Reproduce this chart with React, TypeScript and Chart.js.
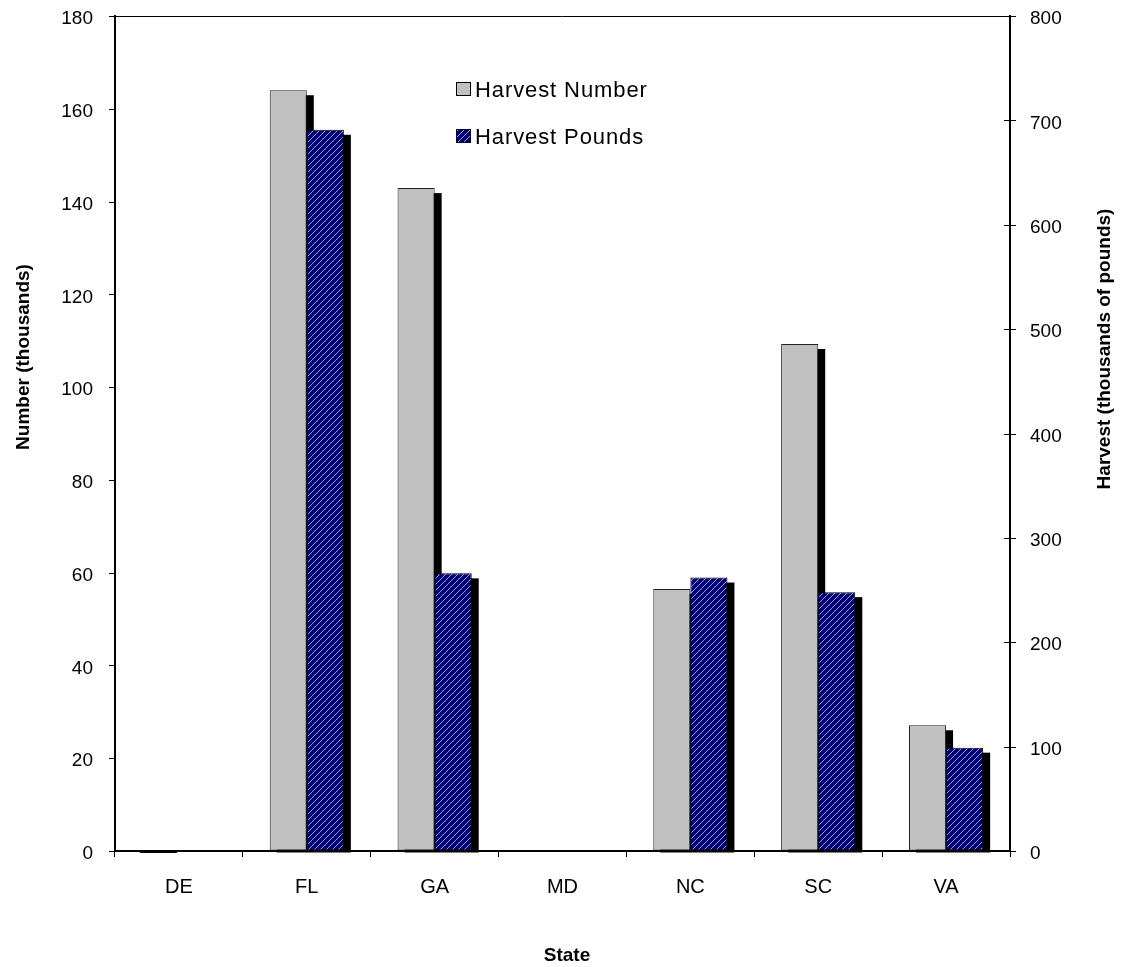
import React, { useEffect, useRef } from "react";
import { Chart, registerables } from "chart.js";

Chart.register(...registerables);

const categories = ["DE", "FL", "GA", "MD", "NC", "SC", "VA"];
const harvestNumber: (number | null)[] = [0, 164, 142.9, null, 56.5, 109.3, 27.1];
const harvestPounds: (number | null)[] = [null, 691, 266, null, 262, 248, 99];
const leftTicks = { min: 0, max: 180, step: 20 };
const rightTicks = { min: 0, max: 800, step: 100 };
const seriesNames = ["Harvest Number", "Harvest Pounds"];
const axisTitles = {
  left: "Number (thousands)",
  right: "Harvest (thousands of pounds)",
  bottom: "State",
};

const FONT = '"Liberation Sans", Arial, sans-serif';
const GRAY = "#c0c0c0";
const HIDDEN = "rgba(0,0,0,0)";

function makePattern(): CanvasPattern | string {
  const c = document.createElement("canvas");
  const s = 6;
  c.width = s;
  c.height = s;
  const g = c.getContext("2d");
  if (!g) return "#000080";
  g.fillStyle = "#000078";
  g.fillRect(0, 0, s, s);
  g.strokeStyle = "#9a9ac8";
  g.lineWidth = 1;
  const seg = (x1: number, y1: number, x2: number, y2: number) => {
    g.beginPath();
    g.moveTo(x1, y1);
    g.lineTo(x2, y2);
    g.stroke();
  };
  seg(0, s, s, 0);
  seg(-1, 1, 1, -1);
  seg(s - 1, s + 1, s + 1, s - 1);
  const p = g.createPattern(c, "repeat");
  return p || "#000080";
}

export default function App() {
  const ref = useRef<HTMLCanvasElement | null>(null);

  useEffect(() => {
    if (!ref.current) return;
    const pattern = makePattern();

    const shadowPlugin = {
      id: "shadows",
      beforeDatasetsDraw(chart: any) {
        const ctx = chart.ctx;
        ctx.save();
        ctx.fillStyle = "#000";
        chart.data.datasets.forEach((_: any, i: number) => {
          const meta = chart.getDatasetMeta(i);
          meta.data.forEach((el: any, j: number) => {
            const v = chart.data.datasets[i].data[j];
            if (v === null || v === undefined) return;
            const p = el.getProps(["x", "y", "base", "width"], true);
            const h = p.base - p.y;
            const left = p.x - p.width / 2;
            if (h <= 1) {
              ctx.fillRect(left - 2, p.base, p.width, 2);
              return;
            }
            ctx.fillRect(left + 7, p.y + 5, p.width, h - 5 + 2);
          });
        });
        ctx.restore();
      },
    };

    const decorPlugin = {
      id: "decor",
      afterDraw(chart: any) {
        const ctx = chart.ctx;
        const a = chart.chartArea;
        ctx.save();
        ctx.strokeStyle = "#000";
        ctx.lineWidth = 1;
        // top border of plot area
        ctx.beginPath();
        ctx.moveTo(a.left, a.top + 0.5);
        ctx.lineTo(a.right, a.top + 0.5);
        ctx.stroke();
        // left tick marks (outside)
        const ys = chart.scales.y;
        ys.ticks.forEach((t: any) => {
          const py = Math.round(ys.getPixelForValue(t.value)) + 0.5;
          ctx.beginPath();
          ctx.moveTo(a.left - 6, py);
          ctx.lineTo(a.left, py);
          ctx.stroke();
        });
        // right tick marks (crossing)
        const y1 = chart.scales.y1;
        y1.ticks.forEach((t: any) => {
          const py = Math.round(y1.getPixelForValue(t.value)) + 0.5;
          ctx.beginPath();
          ctx.moveTo(a.right - 6, py);
          ctx.lineTo(a.right + 6, py);
          ctx.stroke();
        });
        // legend
        ctx.font = `22px ${FONT}`;
        (ctx as any).letterSpacing = "0.9px";
        ctx.textAlign = "left";
        ctx.textBaseline = "alphabetic";
        ctx.fillStyle = GRAY;
        ctx.fillRect(456, 82, 14, 13);
        ctx.strokeStyle = "#000";
        ctx.strokeRect(456.5, 82.5, 14, 13);
        ctx.fillStyle = "#000";
        ctx.fillText(seriesNames[0], 475, 97);
        ctx.fillStyle = pattern as any;
        ctx.fillRect(456, 129, 14, 13);
        ctx.strokeRect(456.5, 129.5, 14, 13);
        ctx.fillStyle = "#000";
        ctx.fillText(seriesNames[1], 475, 144);
        (ctx as any).letterSpacing = "0px";
        // axis titles
        ctx.font = `bold 19px ${FONT}`;
        ctx.textAlign = "center";
        ctx.textBaseline = "middle";
        ctx.save();
        ctx.translate(24, 357);
        ctx.rotate(-Math.PI / 2);
        ctx.fillText(axisTitles.left, 0, 0);
        ctx.restore();
        ctx.save();
        ctx.translate(1105, 349);
        ctx.rotate(-Math.PI / 2);
        ctx.fillText(axisTitles.right, 0, 0);
        ctx.restore();
        ctx.fillText(axisTitles.bottom, 567, 956);
        ctx.restore();
      },
    };

    const chart = new Chart(ref.current, {
      type: "bar",
      data: {
        labels: categories,
        datasets: [
          {
            label: seriesNames[0],
            data: harvestNumber,
            yAxisID: "y",
            backgroundColor: GRAY,
            borderColor: "#222",
            borderWidth: 1,
            borderSkipped: false,
          },
          {
            label: seriesNames[1],
            data: harvestPounds,
            yAxisID: "y1",
            backgroundColor: pattern as any,
            borderColor: "#000",
            borderWidth: 1,
            borderSkipped: false,
          },
        ],
      },
      options: {
        responsive: false,
        animation: false,
        events: [],
        layout: { padding: { top: 16, left: 0, right: 0, bottom: 0 } },
        datasets: { bar: { categoryPercentage: 0.58, barPercentage: 1.0, grouped: true } },
        plugins: { legend: { display: false }, tooltip: { enabled: false }, title: { display: false } },
        scales: {
          x: {
            type: "category",
            offset: true,
            grid: {
              display: true,
              drawOnChartArea: false,
              drawTicks: true,
              tickLength: 6,
              color: "#000",
              lineWidth: 1,
              offset: true,
            },
            border: { display: true, color: "#000", width: 2 },
            ticks: { color: "#000", font: { family: FONT, size: 20 }, padding: 18, maxRotation: 0, autoSkip: false },
            afterFit: (s: any) => {
              s.height = 116;
            },
          },
          y: {
            position: "left",
            min: leftTicks.min,
            max: leftTicks.max,
            ticks: { stepSize: leftTicks.step, color: "#000", font: { family: FONT, size: 19 }, padding: 4, labelOffset: 3 },
            grid: { display: true, drawOnChartArea: false, drawTicks: true, tickLength: 18, color: HIDDEN, lineWidth: 1 },
            border: { display: true, color: "#000", width: 2 },
            afterFit: (s: any) => {
              s.width = 115;
            },
          },
          y1: {
            position: "right",
            min: rightTicks.min,
            max: rightTicks.max,
            ticks: { stepSize: rightTicks.step, color: "#000", font: { family: FONT, size: 19 }, padding: 4, labelOffset: 3 },
            grid: { display: true, drawOnChartArea: false, drawTicks: true, tickLength: 16, color: HIDDEN, lineWidth: 1 },
            border: { display: true, color: "#000", width: 2 },
            afterFit: (s: any) => {
              s.width = 115;
            },
          },
        },
      } as any,
      plugins: [shadowPlugin, decorPlugin],
    });
    return () => chart.destroy();
  }, []);

  return (
    <div style={{ position: "absolute", left: 0, top: 0, width: 1125, height: 967, background: "#fff" }}>
      <canvas ref={ref} width={1125} height={967} style={{ display: "block" }} />
    </div>
  );
}
